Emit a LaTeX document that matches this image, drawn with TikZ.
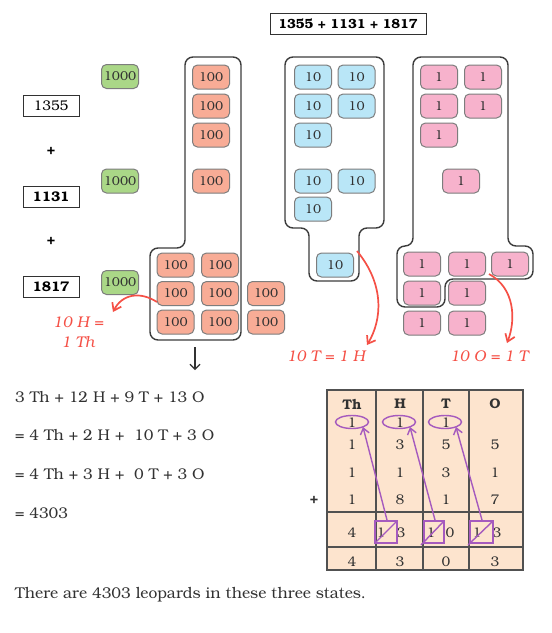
\documentclass[tikz,border=0pt]{standalone}
\usepackage{fontspec}
\setmainfont{TeX Gyre Bonum}
\usetikzlibrary{arrows.meta}
\definecolor{greenT}{RGB}{170,215,135}
\definecolor{orangeT}{RGB}{248,172,150}
\definecolor{blueT}{RGB}{185,230,247}
\definecolor{pinkT}{RGB}{247,178,204}
\definecolor{tilebd}{RGB}{125,125,125}
\definecolor{redA}{RGB}{245,80,70}
\definecolor{purp}{RGB}{165,90,190}
\definecolor{peach}{RGB}{253,228,206}
\definecolor{ink}{RGB}{50,50,50}
\tikzset{
  tile/.style={draw=tilebd, line width=1pt, rounded corners=5pt, minimum width=37pt, minimum height=24pt, inner sep=0pt, text=ink, font=\fontsize{13}{13}\selectfont},
  th/.style={tile, fill=greenT},
  hu/.style={tile, fill=orangeT},
  te/.style={tile, fill=blueT},
  on/.style={tile, fill=pinkT},
  numbox/.style={draw=ink, line width=1pt, minimum width=56pt, minimum height=21pt, inner sep=0pt, font=\fontsize{14}{14}\selectfont},
  blob/.style={draw=ink!95, line width=1.4pt, rounded corners=8pt},
  redlab/.style={text=redA, font=\itshape\fontsize{15.5}{16}\selectfont},
  redarr/.style={draw=redA, line width=1.7pt, -{Straight Barb[length=7pt,width=10pt]}},
  purarr/.style={draw=purp, line width=1.4pt, -{Straight Barb[length=6pt,width=9pt]}},
  cell/.style={text=ink, font=\fontsize{14}{14}\selectfont, inner sep=0pt},
  eqn/.style={anchor=west, text=ink, font=\fontsize{15.5}{16}\selectfont, inner sep=0pt},
  tline/.style={draw=ink!85, line width=1.1pt}
}
\begin{document}
\begin{tikzpicture}[x=1pt,y=-1pt]
\useasboundingbox (0,0) rectangle (552,633);
\fill[white] (0,0) rectangle (552,633);

% top title
\node[numbox, minimum width=156pt, font=\bfseries\fontsize{13.3}{13}\selectfont] (title) at (348,23.5) {1355 + 1131 + 1817};

% left numbers
\node[numbox] (n1) at (51,105.5) {1355};
\node[font=\bfseries\fontsize{14}{14}\selectfont] (p1) at (51,151) {+};
\node[numbox, font=\bfseries\fontsize{14}{14}\selectfont] (n2) at (51,196.5) {1131};
\node[font=\bfseries\fontsize{14}{14}\selectfont] (p2) at (51,241) {+};
\node[numbox, font=\bfseries\fontsize{14}{14}\selectfont] (n3) at (51,287) {1817};

% thousands
\node[th] (k1) at (120,76.5) {1000};
\node[th] (k2) at (120,181) {1000};
\node[th] (k3) at (120,282.5) {1000};

% hundreds outline
\draw[blob] (185,57) -- (241,57) -- (241,340) -- (150,340) -- (150,248) -- (185,248) -- cycle;
\node[hu] (h1) at (211,77) {100};
\node[hu] (h2) at (211,106) {100};
\node[hu] (h3) at (211,135) {100};
\node[hu] (h4) at (211,181) {100};
\node[hu] (h5) at (175.5,265) {100};
\node[hu] (h6) at (220,265) {100};
\node[hu] (h7) at (175.5,293.5) {100};
\node[hu] (h8) at (220,293.5) {100};
\node[hu] (h9) at (266,293.5) {100};
\node[hu] (h10) at (175.5,322) {100};
\node[hu] (h11) at (220,322) {100};
\node[hu] (h12) at (266,322) {100};

% tens outline
\draw[blob] (285,57) -- (384,57) -- (384,228) -- (359,228) -- (359,281) -- (309,281) -- (309,228) -- (285,228) -- cycle;
\node[te] (t1) at (313,77) {10};
\node[te] (t2) at (356.5,77) {10};
\node[te] (t3) at (313,106) {10};
\node[te] (t4) at (356.5,106) {10};
\node[te] (t5) at (313,135) {10};
\node[te] (t6) at (313,181) {10};
\node[te] (t7) at (356.5,181) {10};
\node[te] (t8) at (313,209) {10};
\node[te] (t9) at (335,265) {10};

% ones outline
\draw[blob] (413,57) -- (508,57) -- (508,246) -- (533,246) -- (533,279) -- (445,279) -- (445,307) -- (397,307) -- (397,246) -- (413,246) -- cycle;
\node[on] (o1) at (439,77) {1};
\node[on] (o2) at (483,77) {1};
\node[on] (o3) at (439,106) {1};
\node[on] (o4) at (483,106) {1};
\node[on] (o5) at (439,135) {1};
\node[on] (o6) at (461,181) {1};
\node[on] (o7) at (422,264) {1};
\node[on] (o8) at (467,264) {1};
\node[on] (o9) at (510,264) {1};
\node[on] (o10) at (422,293) {1};
\node[on] (o11) at (467,293) {1};
\node[on] (o12) at (422,323) {1};
\node[on] (o13) at (467,323) {1};

% red exchange arrows and labels
\coordinate (ra1) at (157,302);
\coordinate (ra1e) at (113,312);
\draw[redarr] (ra1) .. controls (140,291) and (122,294) .. (ra1e);
\node[redlab] (lh1) at (78,322) {10 H =};
\node[redlab] (lh2) at (78,342) {1 Th};

\coordinate (ra2) at (357,251);
\coordinate (ra2e) at (367,345);
\draw[redarr] (ra2) .. controls (385,285) and (382,320) .. (ra2e);
\node[redlab] (lt) at (326,356) {10 T = 1 H};

\coordinate (ra3) at (489,274);
\coordinate (ra3e) at (507,343);
\draw[redarr] (ra3) .. controls (515,288) and (516,320) .. (ra3e);
\node[redlab] (lo) at (489,356) {10 O = 1 T};

% down arrow
\coordinate (da1) at (195,347);
\coordinate (da2) at (195,370);
\draw[line width=1.1pt, ink, -{Straight Barb[length=5pt,width=10pt]}] (da1) -- (da2);

% equations
\node[eqn] (e1) at (15,397) {3 Th + 12 H + 9 T + 13 O};
\node[eqn] (e2) at (15,435) {= 4 Th + 2 H + \ 10 T + 3 O};
\node[eqn] (e3) at (15,474) {= 4 Th + 3 H + \ 0 T + 3 O};
\node[eqn] (e4) at (15,513) {= 4303};

% table
\fill[peach] (327,390) rectangle (523,570);
\draw[tline] (327,390) rectangle (523,570);
\draw[tline] (376,390) -- (376,570);
\draw[tline] (423,390) -- (423,570);
\draw[tline] (469,390) -- (469,570);
\draw[tline] (327,512) -- (523,512);
\draw[tline] (327,547) -- (523,547);

\foreach \x/\t [count=\i] in {352/Th,400/H,446/T,495/O}
  \node[cell, font=\bfseries\fontsize{14}{14}\selectfont] (hd\i) at (\x,404) {\t};

\node[cell] (c1) at (352,423) {1};
\node[cell] (c2) at (400,423) {1};
\node[cell] (c3) at (446,423) {1};

\node[cell] (a1) at (352,445) {1};
\node[cell] (a2) at (400,445) {3};
\node[cell] (a3) at (446,445) {5};
\node[cell] (a4) at (495,445) {5};

\node[cell] (b1) at (352,473) {1};
\node[cell] (b2) at (400,473) {1};
\node[cell] (b3) at (446,473) {3};
\node[cell] (b4) at (495,473) {1};

\node[cell, font=\bfseries\fontsize{14}{14}\selectfont] (plus) at (314,500) {+};
\node[cell] (d1) at (352,500) {1};
\node[cell] (d2) at (400,500) {8};
\node[cell] (d3) at (446,500) {1};
\node[cell] (d4) at (495,500) {7};

\node[cell] (s1) at (352,533) {4};
\node[cell] (s2a) at (381,533) {1};
\node[cell] (s2b) at (401,533) {3};
\node[cell] (s3a) at (431,533) {1};
\node[cell] (s3b) at (450,533) {0};
\node[cell] (s4a) at (477,533) {1};
\node[cell] (s4b) at (497,533) {3};

\node[cell] (f1) at (352,562) {4};
\node[cell] (f2) at (400,562) {3};
\node[cell] (f3) at (446,562) {0};
\node[cell] (f4) at (495,562) {3};

% purple marks
\draw[purp, line width=1.4pt] (352,422) ellipse [x radius=16.5pt, y radius=6.5pt];
\draw[purp, line width=1.4pt] (399,422) ellipse [x radius=16.5pt, y radius=6.5pt];
\draw[purp, line width=1.4pt] (445,422) ellipse [x radius=16.5pt, y radius=6.5pt];

\draw[purp, line width=1.4pt] (375,521) rectangle (397,543);
\draw[purp, line width=1.4pt] (375,543) -- (397,521);
\draw[purp, line width=1.4pt] (424,521) rectangle (444,543);
\draw[purp, line width=1.4pt] (421,545) -- (444,521);
\draw[purp, line width=1.4pt] (470,521) rectangle (493,543);
\draw[purp, line width=1.4pt] (468,545) -- (493,521);

\coordinate (q1) at (387,520);
\coordinate (q1e) at (363,427);
\coordinate (q2) at (435,520);
\coordinate (q2e) at (410,427);
\coordinate (q3) at (482,520);
\coordinate (q3e) at (456,427);
\draw[purarr] (q1) -- (q1e);
\draw[purarr] (q2) -- (q2e);
\draw[purarr] (q3) -- (q3e);

% bottom sentence
\node[anchor=west, text=ink, inner sep=0pt, font=\fontsize{15.6}{16}\selectfont] (concl) at (15,595) {There are 4303 leopards in these three states.};
\end{tikzpicture}
\end{document}
